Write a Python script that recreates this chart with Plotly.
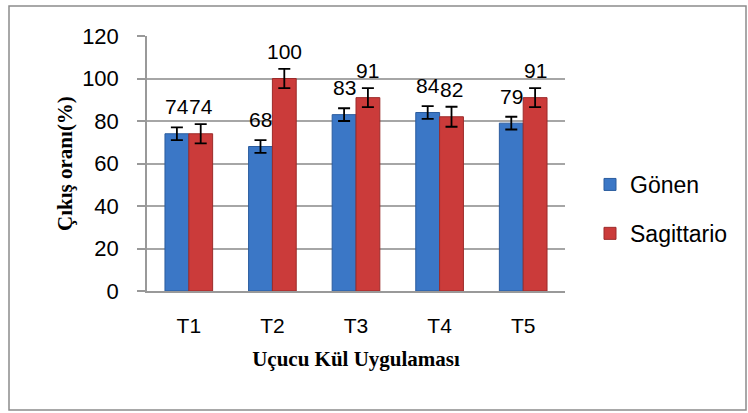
import plotly.graph_objects as go

categories = ["T1", "T2", "T3", "T4", "T5"]
gonen = [74, 68, 83, 84, 79]
sagittario = [74, 100, 91, 82, 91]
gonen_err = [3, 3, 3, 3, 3]
sagittario_err = [4.5, 4.5, 4.5, 4.7, 4.5]
y_ticks = [0, 20, 40, 60, 80, 100, 120]

W, H = 748, 413
L, R, T, B = 147, 183, 36, 122
pw, ph = W - L - R, H - T - B

fig = go.Figure()
series = [
    ("Gönen", gonen, gonen_err, "#3B77C6", "#2B5C9E"),
    ("Sagittario", sagittario, sagittario_err, "#CB3B3A", "#9C2B2A"),
]
for name, vals, errs, col, lcol in series:
    fig.add_trace(go.Bar(
        name=name, x=categories, y=vals, legendgroup=name,
        marker=dict(color=col, line=dict(color=lcol, width=1)),
        error_y=dict(type="data", array=errs, visible=True,
                     color="black", thickness=1.8, width=6),
    ))

bargap = 0.43
bw = pw / len(categories) * (1 - bargap) / 2
for i, (name, vals, errs, col, lcol) in enumerate(series):
    shift = (-0.5 if i == 0 else 0.5) * bw
    for c, v in zip(categories, vals):
        fig.add_annotation(x=c, y=v, text=str(v), showarrow=False,
                           xshift=shift, yshift=27, yanchor="middle",
                           font=dict(family="Liberation Sans", size=21, color="black"))

fig.add_shape(type="rect", xref="paper", yref="paper",
              x0=(9 - L) / pw, x1=(746 - L) / pw,
              y0=-(410 - T - ph) / ph, y1=(T + ph - 6) / ph,
              line=dict(color="#8c8c8c", width=1.5), layer="below")

fig.update_layout(
    width=W, height=H,
    margin=dict(l=L, r=R, t=T, b=B, autoexpand=False),
    paper_bgcolor="white", plot_bgcolor="white",
    barmode="group", bargap=bargap, bargroupgap=0,
    font=dict(family="Liberation Sans", color="black"),
    legend=dict(x=(590 - L) / pw, xanchor="left", y=(ph - (209 - T)) / ph, yanchor="middle",
                font=dict(size=23, family="Liberation Sans"), traceorder="grouped",
                tracegroupgap=16, itemwidth=30, bgcolor="rgba(0,0,0,0)"),
    xaxis=dict(showgrid=False, showline=True, linecolor="#999999", linewidth=1.5,
               ticks="", tickfont=dict(size=21), ticklabelstandoff=15,
               title=dict(text="<b>Uçucu Kül Uygulaması</b>", standoff=15,
                          font=dict(family="Liberation Serif", size=21))),
    yaxis=dict(range=[0, 120], tickvals=y_ticks, showgrid=True,
               gridcolor="#a6a6a6", gridwidth=1.5,
               showline=True, linecolor="#999999", linewidth=1.5,
               ticks="outside", ticklen=8, tickcolor="#999999", tickwidth=1.5,
               tickfont=dict(size=22), ticklabelstandoff=14, zeroline=False,
               title=dict(text="<b>Çıkış oranı(%)</b>", standoff=4,
                          font=dict(family="Liberation Serif", size=21))),
)

fig.write_html("out.html", config={"displayModeBar": False},
               post_script="document.body.style.margin='0';document.body.style.overflow='hidden';")
